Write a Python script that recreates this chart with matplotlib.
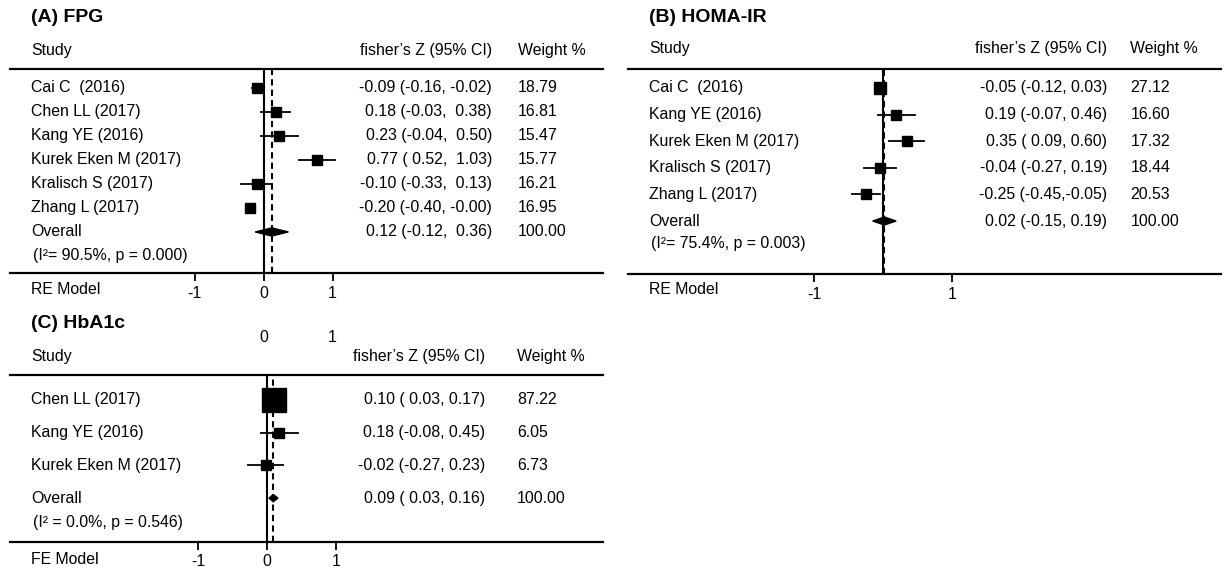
import numpy as np
import matplotlib
matplotlib.use('Agg')
import matplotlib.pyplot as plt
from matplotlib.transforms import blended_transform_factory

plt.rcParams['font.family'] = ['Liberation Sans', 'DejaVu Sans']

# (A) FPG
a_studies = ['Cai C  (2016)', 'Chen LL (2017)', 'Kang YE (2016)',
             'Kurek Eken M (2017)', 'Kralisch S (2017)', 'Zhang L (2017)']
a_est = [-0.09, 0.18, 0.23, 0.77, -0.10, -0.20]
a_lo = [-0.16, -0.03, -0.04, 0.52, -0.33, -0.40]
a_hi = [-0.02, 0.38, 0.50, 1.03, 0.13, -0.0]
a_w = [18.79, 16.81, 15.47, 15.77, 16.21, 16.95]
a_overall = [0.12, -0.12, 0.36]
a_ci_shown = [True, True, True, True, True, False]
a_het = '(I²= 90.5%, p = 0.000)'

# (B) HOMA-IR
b_studies = ['Cai C  (2016)', 'Kang YE (2016)', 'Kurek Eken M (2017)',
             'Kralisch S (2017)', 'Zhang L (2017)']
b_est = [-0.05, 0.19, 0.35, -0.04, -0.25]
b_lo = [-0.12, -0.07, 0.09, -0.27, -0.45]
b_hi = [0.03, 0.46, 0.60, 0.19, -0.05]
b_w = [27.12, 16.60, 17.32, 18.44, 20.53]
b_overall = [0.02, -0.15, 0.19]
b_het = '(I²= 75.4%, p = 0.003)'

# (C) HbA1c
c_studies = ['Chen LL (2017)', 'Kang YE (2016)', 'Kurek Eken M (2017)']
c_est = [0.10, 0.18, -0.02]
c_lo = [0.03, -0.08, -0.27]
c_hi = [0.17, 0.45, 0.23]
c_w = [87.22, 6.05, 6.73]
c_overall = [0.09, 0.03, 0.16]
c_het = '(I² = 0.0%, p = 0.546)'

W, H = 1225, 569
fig = plt.figure(figsize=(W / 100, H / 100), dpi=100)
FS = 11.4


def fx(px):
    return px / W


def fy(px):
    return 1 - px / H


def panel(left, top, bottom, zero_px, ylim, studies, est, lo, hi, w, overall,
          het, het_row, title, model, ci_fmt, ci_right, w_left, ticks,
          title_y, head_y, model_y, diam_h, ci_shown=None):
    ax = fig.add_axes([fx(left), fy(bottom), fx(593), (bottom - top) / H])
    ppu = 69.0
    ax.set_xlim((left - zero_px) / ppu, (left + 593 - zero_px) / ppu)
    ax.set_ylim(*ylim)
    for s in ['left', 'right']:
        ax.spines[s].set_visible(False)
    for s in ['top', 'bottom']:
        ax.spines[s].set_linewidth(1.6)
    ax.set_yticks([])
    ax.set_xticks(ticks)
    ax.set_xticklabels([str(t) for t in ticks])
    ax.tick_params(axis='x', direction='out', length=6, width=1.3,
                   labelsize=FS, pad=3)

    ax.axvline(0, color='black', lw=1.5, zorder=1)
    ax.axvline(overall[0], color='black', lw=1.5, ls=(0, (3, 2)), zorder=1)

    n = len(studies)
    rows = np.arange(n)
    wmin = min(w)
    if ci_shown is None:
        ci_shown = [True] * n
    for i in range(n):
        if ci_shown[i]:
            ax.plot([lo[i], hi[i]], [rows[i], rows[i]], color='black', lw=1.3,
                    zorder=2)
        ms = 6.8 * (w[i] / wmin) ** 0.36
        ax.plot(est[i], rows[i], marker='s', color='black', ms=ms, zorder=3)
    ax.fill([overall[1], overall[0], overall[2], overall[0]],
            [n, n - diam_h, n, n + diam_h], color='black', zorder=3)

    tr = blended_transform_factory(ax.transAxes, ax.transData)
    xs = 21 / 593
    for i in range(n):
        ax.text(xs, rows[i], studies[i], transform=tr, fontsize=FS,
                va='center', ha='left')
        ax.text(ci_right, rows[i], ci_fmt.format(est[i], lo[i], hi[i]),
                transform=tr, fontsize=FS, va='center', ha='right')
        ax.text(w_left, rows[i], '{:.2f}'.format(w[i]), transform=tr,
                fontsize=FS, va='center', ha='left')
    ax.text(xs, n, 'Overall', transform=tr, fontsize=FS, va='center')
    ax.text(ci_right, n, ci_fmt.format(*overall), transform=tr, fontsize=FS,
            va='center', ha='right')
    ax.text(w_left, n, '100.00', transform=tr, fontsize=FS, va='center')
    ax.text(xs + 0.004, het_row, het, transform=tr, fontsize=FS, va='center')

    fig.text(fx(left + 21), fy(title_y), title, fontsize=14, weight='bold',
             va='center')
    fig.text(fx(left + 21), fy(head_y), 'Study', fontsize=FS, va='center')
    fig.text(fx(left + ci_right * 593), fy(head_y), 'fisher\u2019s Z (95% CI)',
             fontsize=FS, va='center', ha='right')
    fig.text(fx(left + w_left * 593), fy(head_y), 'Weight %', fontsize=FS,
             va='center')
    fig.text(fx(left + 21), fy(model_y), model, fontsize=FS, va='center')
    return ax


ax_a = panel(10, 69, 273, 263.5, (7.71, -0.79), a_studies, a_est, a_lo, a_hi,
             a_w, a_overall, a_het, 7.0, '(A) FPG', 'RE Model',
             '{:.2f} ({:5.2f}, {:5.2f})', 0.813, 0.857, [-1, 0, 1],
             17, 51, 289, 0.17, a_ci_shown)

ax_b = panel(628, 69, 274, 883, (6.99, -0.71), b_studies, b_est, b_lo, b_hi,
             b_w, b_overall, b_het, 5.83, '(B) HOMA-IR', 'RE Model',
             '{:.2f} ({:5.2f},{:5.2f})', 0.808, 0.847, [-1, 1],
             17, 49, 290, 0.15)

ax_c = panel(10, 375, 542, 267, (4.34, -0.76), c_studies, c_est, c_lo, c_hi,
             c_w, c_overall, c_het, 3.73, '(C) HbA1c', 'FE Model',
             '{:.2f} ({:5.2f},{:5.2f})', 0.801, 0.855, [-1, 0, 1],
             323, 356, 560, 0.11)

# stray tick labels under panel A
tr_a = blended_transform_factory(ax_a.transData, fig.transFigure)
for t in [0, 1]:
    ax_a.text(t, fy(338), str(t), transform=tr_a, fontsize=FS, ha='center',
              va='center', clip_on=False)

fig.savefig('out.png', dpi=100)
